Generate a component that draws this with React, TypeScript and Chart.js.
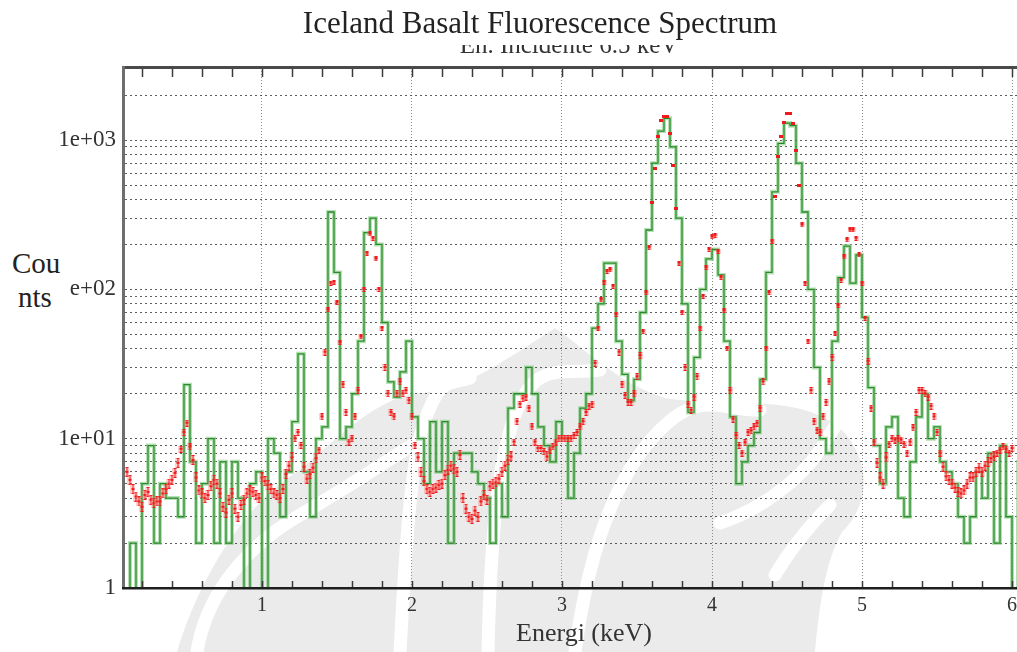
import React, { useEffect, useRef } from 'react';
import { Chart, registerables } from 'chart.js';

Chart.register(...registerables);

const SERIF = '"Liberation Serif", "Times New Roman", serif';

// ---- text ----
const titleText = 'Iceland Basalt Fluorescence Spectrum';
const subtitleText = 'En. Incidente 6.5 keV';
const yTitleLines = ['Cou', 'nts'];
const xTitleText = 'Energi (keV)';

// ---- axes ----
const X_MIN = 0.0867;
const X_MAX = 6.0333;
const Y_MIN = 1;
const Y_MAX = 3040;
const xTickValues = [1, 2, 3, 4, 5, 6];
const xMinorStep = 0.2;
const yDecades = [1, 10, 100, 1000];
const yDecadeLabels = ['1', '1e+01', '1e+02', '1e+03'];
const yMultipliers = [1, 2, 3, 4, 5, 6, 7, 8, 9];

// ---- green histogram (counts per bin, bin centres from greenStart every greenStep keV) ----
const greenStart = 0.1;
const greenStep = 0.04;
const greenCounts = [
  0.5, 2, 0.5, 5, 9, 2, 5, 4, 4, 3,
  23, 7, 2, 5, 10, 2, 7, 2, 7, 4,
  0.5, 5, 6, 0.5, 10, 8, 3, 6, 13, 37,
  6, 3, 10, 12, 330, 130, 10,
  12, 20, 45, 240, 300, 200, 60, 24, 19, 28,
  45, 14, 10, 5, 13, 6, 13, 2, 8, 8,
  8, 6, 5, 4, 2, 5, 3, 16, 20, 20,
  30, 20, 12, 9, 7, 13, 10, 4, 8, 16,
  20,
  55, 80, 150, 150, 45, 27, 18, 25, 70, 250,
  700, 1150, 1400, 900, 300, 80, 15, 35, 100, 160,
  185, 125, 45, 14, 5, 7, 9, 11, 25, 130,
  450, 950, 1300, 1250, 700, 330, 100, 30, 10, 8,
  45, 120, 195, 110, 170, 65, 22, 9, 5, 12,
  14, 4, 3, 7, 14, 20, 10, 12, 7, 6,
  5, 3, 2, 3, 6, 4, 8, 2, 9, 3,
  0.5, 7,
];

// ---- red points (counts, from redStart every redStep keV) ----
const redStart = 0.1;
const redStep = 0.02;
const redCounts = [
  6, 5.3, 4.6, 4.1, 3.8, 3.5, 4.2, 4.4, 3.9, 3.7,
  3.8, 3.8, 4.3, 4.6, 5.0, 5.3, 5.9, 6.9, 8.5, 11,
  12.7, 8.8, 7.2, 5.5, 4.5, 4.3, 4.0, 4.2, 4.8, 5.3,
  5.0, 4.3, 3.5, 3.2, 3.9, 4.3, 3.4, 3.0, 3.6, 3.9,
  4.3, 4.5, 4.4, 4.2, 4.0, 5.5,
  5.2, 4.9, 4.6, 4.3, 4.2, 4.0, 4.6, 5.8, 6.6, 7.5,
  10, 11, 9.0, 6.5, 5.4, 5.8, 6.4, 7.4, 8.4, 14,
  38, 73, 110, 112, 82, 44, 23, 15, 9.5, 10,
  14, 21, 48, 100, 175, 235, 220, 160, 100, 55,
  30, 20, 15, 14, 20, 24, 20, 21, 18, 14,
  9, 7.5, 6.0, 5.2, 4.6, 4.4, 4.6, 4.7, 4.9, 5.0,
  5.7, 6.2, 6.6, 6.3, 6.0, 7.8, 4.0, 3.4, 3.0, 2.9,
  3.3, 3.0, 3.8, 4.2, 3.9, 4.8, 5.0, 5.1, 5.4, 6.0,
  6.6, 7.2, 7.6, 9.5, 13, 17, 18.5, 19, 16, 12,
  9.5, 8.6, 8.6, 8.2, 7.6, 8.4, 8.8, 9.5, 10, 10,
  10, 10, 10, 10.5, 11, 12, 13, 15, 16.5, 17,
  32, 55, 85, 112, 132, 135, 105, 68, 38, 23,
  19.5, 17.5, 17.5, 20, 26, 36, 52, 95, 190, 380,
  650, 1050, 1350, 1450, 1450, 1100, 680, 350, 150, 70,
  30, 17, 15.5, 19, 26, 55, 90, 140, 185, 225,
  230, 180, 120, 72, 40, 21, 13.5, 10.5, 9.0, 8.0,
  9.4, 11, 11.3, 12, 12.7, 16, 24, 40, 95, 210,
  420, 780, 1050, 1320, 1500, 1500, 1300, 850, 500, 270,
  110, 45, 21, 13, 11.4, 11, 14, 17.5, 24, 35,
  51, 78, 115, 165, 215, 250, 250, 220, 170, 110,
  64, 33, 16, 9.5, 6.9, 5.5, 5.0, 7.5, 9.2, 10,
  9.8, 10, 9.8, 9.2, 8, 9.5, 11.8, 15, 21, 21,
  20, 19, 16.5, 14, 11, 8, 6.5, 5.6, 5.3, 5.0,
  4.7, 4.4, 4.3, 4.5, 5.0, 5.5, 5.5, 6.0, 6.4, 6.0,
  6.6, 7.0, 7.4, 7.6, 8, 8.4, 8.8, 8.5, 8, 8.6,
];

// ---- faint background watermark (decoration only, not data) ----
const watermarkBody =
  'M 177 652 C 195 590, 240 505, 300 470 C 340 435, 380 396, 420 393 C 465 390, 505 360, 555 328 ' +
  'C 585 348, 615 382, 665 398 C 725 408, 800 392, 842 430 C 872 462, 870 505, 842 532 ' +
  'C 826 560, 820 600, 815 652 Z';
const watermarkCuts = [
  'M 197 652 C 205 600, 240 550, 300 515 S 380 465, 420 440',
  'M 400 652 C 405 560, 410 460, 425 420 S 445 385, 470 378',
  'M 488 652 C 490 560, 495 470, 515 415 S 560 375, 600 370',
  'M 575 652 C 590 540, 620 470, 660 430 S 720 410, 760 410',
  'M 720 523 C 760 510, 800 480, 820 450 S 845 405, 865 390',
  'M 775 575 C 790 550, 810 525, 830 505',
];

function makeMarker(w: number, h: number, bar: boolean): HTMLCanvasElement {
  const c = document.createElement('canvas');
  c.width = w;
  c.height = h;
  const g = c.getContext('2d') as CanvasRenderingContext2D;
  g.fillStyle = 'rgba(255,120,120,0.35)';
  g.fillRect(0, 0, w, h);
  g.fillStyle = '#f01a1a';
  if (bar) {
    const cx = Math.floor(w / 2);
    g.fillRect(cx, 0, 1, h);
    g.fillRect(cx - 1, 0, 3, 1);
    g.fillRect(cx - 1, h - 1, 3, 1);
    g.fillRect(cx - 1, Math.floor(h / 2) - 1, 3, 2);
  } else {
    g.fillRect(0, 0, w, h);
  }
  return c;
}

export default function App() {
  const ref = useRef<HTMLCanvasElement>(null);

  useEffect(() => {
    const canvas = ref.current;
    if (!canvas) return;

    const mTall = makeMarker(5, 10, true);
    const mMid = makeMarker(5, 7, true);
    const mSmall = makeMarker(5, 5, true);
    const mTiny = makeMarker(4, 3, false);
    const pick = (v: number) => (v < 8 ? mTall : v < 40 ? mMid : v < 300 ? mSmall : mTiny);

    const greenPts = greenCounts.map((c, i) => ({ x: greenStart + i * greenStep, y: c }));
    const redPts = redCounts.map((c, i) => ({ x: redStart + i * redStep, y: c }));

    const yGrid: number[] = [];
    yDecades.forEach((d) => yMultipliers.forEach((m) => { if (d * m <= Y_MAX) yGrid.push(d * m); }));

    const framePlugin = {
      id: 'frame',
      afterDatasetsDraw(chart: any) {
        const { ctx, chartArea: a, scales } = chart;
        const xs = scales.x;
        ctx.save();
        ctx.strokeStyle = '#3a3a3a';
        ctx.lineWidth = 1.5;
        const k0 = Math.ceil(X_MIN / xMinorStep);
        const k1 = Math.floor(X_MAX / xMinorStep);
        for (let k = k0; k <= k1; k++) {
          const px = Math.round(xs.getPixelForValue(k * xMinorStep)) + 0.5;
          ctx.beginPath();
          ctx.moveTo(px, a.top);
          ctx.lineTo(px, a.top + 9);
          ctx.stroke();
          ctx.beginPath();
          ctx.moveTo(px, a.bottom);
          ctx.lineTo(px, a.bottom - 7);
          ctx.stroke();
        }
        ctx.fillStyle = '#4a4a4a';
        ctx.fillRect(a.left - 2, a.top - 2, a.right - a.left + 2, 3);
        ctx.fillStyle = '#6e6e6e';
        ctx.fillRect(a.left - 3, a.top - 2, 3, a.bottom - a.top + 3);
        ctx.fillStyle = '#1e1e1e';
        ctx.fillRect(a.left - 3, a.bottom - 1, a.right - a.left + 3, 2.5);
        ctx.restore();
      },
    };

    const chart = new Chart(canvas, {
      type: 'line',
      data: {
        datasets: [
          {
            label: 'model',
            data: redPts,
            showLine: false,
            pointStyle: (c: any) => pick(c.raw ? c.raw.y : 10),
            pointRadius: 3,
            order: 0,
          } as any,
          {
            label: 'data',
            data: greenPts,
            stepped: 'middle',
            borderColor: '#2a8a2a',
            borderWidth: 1.3,
            pointRadius: 0,
            order: 1,
          },
          {
            label: 'data-halo',
            data: greenPts,
            stepped: 'middle',
            borderColor: 'rgba(120,200,120,0.55)',
            borderWidth: 4,
            pointRadius: 0,
            order: 2,
          },
        ],
      },
      options: {
        responsive: false,
        animation: false,
        events: [],
        layout: { autoPadding: false, padding: { top: 68, right: 0, left: 0, bottom: 0 } },
        plugins: {
          legend: { display: false },
          tooltip: { enabled: false },
          title: { display: false },
        },
        scales: {
          x: {
            type: 'linear',
            min: X_MIN,
            max: X_MAX,
            afterBuildTicks: (s: any) => { s.ticks = xTickValues.map((v) => ({ value: v })); },
            afterFit: (s: any) => { s.height = 64; s.paddingLeft = 0; s.paddingRight = 0; },
            ticks: {
              autoSkip: false,
              maxRotation: 0,
              padding: 6,
              color: '#333',
              font: { family: SERIF, size: 20 },
              callback: (v: any) => String(v),
            },
            grid: { color: '#8c8c8c', lineWidth: 1, drawTicks: false },
            border: { display: false, dash: [1, 2] },
          },
          y: {
            type: 'logarithmic',
            min: Y_MIN,
            max: Y_MAX,
            afterBuildTicks: (s: any) => { s.ticks = yGrid.map((v) => ({ value: v })); },
            afterFit: (s: any) => { s.width = 125; s.paddingTop = 0; s.paddingBottom = 0; },
            ticks: {
              autoSkip: false,
              padding: 9,
              color: '#333',
              font: { family: SERIF, size: 23 },
              callback: (v: any) => {
                const i = yDecades.indexOf(Number(v));
                return i >= 0 ? yDecadeLabels[i] : '';
              },
            },
            grid: { color: 'rgba(40,40,40,0.75)', lineWidth: 1, drawTicks: false },
            border: { display: false, dash: [2, 3] },
          },
        },
      },
      plugins: [framePlugin],
    } as any);

    return () => chart.destroy();
  }, []);

  return (
    <div
      style={{
        position: 'fixed',
        left: 0,
        top: 0,
        width: 1017,
        height: 652,
        background: '#fff',
        overflow: 'hidden',
        fontFamily: SERIF,
        color: '#222',
      }}
    >
      <svg width={1017} height={652} style={{ position: 'absolute', left: 0, top: 0 }}>
        <path d={watermarkBody} fill="#ebebeb" />
        {watermarkCuts.map((d, i) => (
          <path key={i} d={d} fill="none" stroke="#ffffff" strokeWidth={13} strokeLinecap="round" />
        ))}
      </svg>
      <canvas ref={ref} width={1017} height={652} style={{ position: 'absolute', left: 0, top: 0 }} />
      <div
        style={{
          position: 'absolute',
          left: 0,
          top: 7,
          width: 1080,
          textAlign: 'center',
          fontSize: 31,
          lineHeight: '31px',
          whiteSpace: 'nowrap',
        }}
      >
        {titleText}
      </div>
      <div style={{ position: 'absolute', left: 0, top: 45, width: 1017, height: 12, overflow: 'hidden' }}>
        <div
          style={{
            position: 'absolute',
            left: 0,
            top: -13,
            width: 1138,
            textAlign: 'center',
            fontSize: 25,
            lineHeight: '25px',
            whiteSpace: 'nowrap',
            color: '#333',
          }}
        >
          {subtitleText}
        </div>
      </div>
      <div style={{ position: 'absolute', left: 0, top: 238, width: 70, height: 92, background: '#fff' }}>
        <div style={{ position: 'absolute', left: 12, top: 11, fontSize: 29, lineHeight: '29px' }}>{yTitleLines[0]}</div>
        <div style={{ position: 'absolute', left: 18, top: 45, fontSize: 29, lineHeight: '29px' }}>{yTitleLines[1]}</div>
      </div>
      <div
        style={{
          position: 'absolute',
          left: 0,
          top: 620,
          width: 1168,
          textAlign: 'center',
          fontSize: 26,
          lineHeight: '26px',
          whiteSpace: 'nowrap',
          color: '#333',
        }}
      >
        {xTitleText}
      </div>
    </div>
  );
}
